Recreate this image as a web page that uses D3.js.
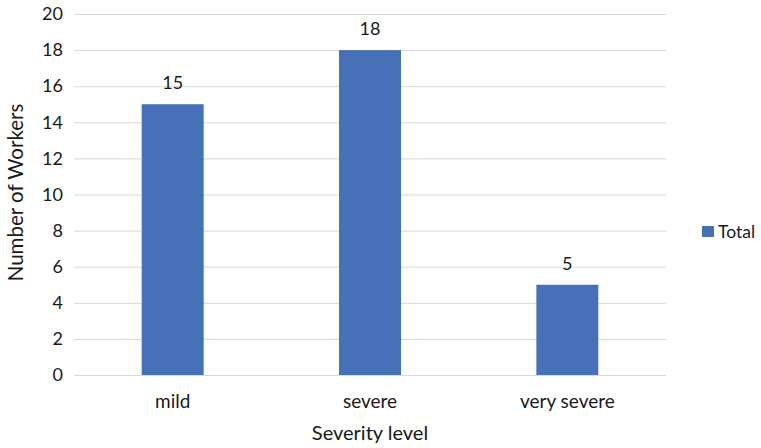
<!DOCTYPE html>
<html>
<head>
<meta charset="utf-8">
<script src="https://cdn.jsdelivr.net/npm/d3@7"></script>
<style>
  html, body { margin: 0; padding: 0; background: #fff; }
  svg { display: block; font-family: Lato, "Open Sans", sans-serif; }
</style>
</head>
<body>
<svg id="chart" width="761" height="448"></svg>
<script>
// Workers by severity level
const categories = ["mild", "severe", "very severe"];
const totals = [15, 18, 5];
const yTicks = [0, 2, 4, 6, 8, 10, 12, 14, 16, 18, 20];
const seriesName = "Total";

const svg = d3.select("#chart");
const plot = { left: 74, right: 666, top: 14, bottom: 375 };
const textColor = "#1a1a1a";
const barColor = "#4671b8";
const fontFamily = "Lato, 'Open Sans', sans-serif";

const x = d3.scaleBand()
  .domain(categories)
  .range([plot.left, plot.right])
  .paddingInner(0.686)
  .paddingOuter(0.343);

const y = d3.scaleLinear()
  .domain([0, 20])
  .range([plot.bottom, plot.top]);

// horizontal gridlines
svg.append("g")
  .selectAll("line")
  .data(yTicks)
  .join("line")
  .attr("x1", plot.left)
  .attr("x2", plot.right)
  .attr("y1", d => y(d) + 0.5)
  .attr("y2", d => y(d) + 0.5)
  .attr("stroke", "#d9d9d9")
  .attr("stroke-width", 1);

// y axis labels
const yAxis = svg.append("g")
  .attr("transform", `translate(${plot.left - 11},0)`)
  .call(d3.axisLeft(y).tickValues(yTicks).tickSize(0).tickPadding(0));
yAxis.select(".domain").remove();
yAxis.selectAll("text")
  .attr("fill", textColor)
  .style("font-size", "18px")
  .style("font-family", fontFamily);

// bars
svg.append("g")
  .selectAll("rect")
  .data(categories)
  .join("rect")
  .attr("x", d => x(d))
  .attr("width", x.bandwidth())
  .attr("y", (d, i) => y(totals[i]))
  .attr("height", (d, i) => y(0) - y(totals[i]))
  .attr("fill", barColor);

// value labels
svg.append("g")
  .selectAll("text")
  .data(categories)
  .join("text")
  .attr("x", d => x(d) + x.bandwidth() / 2)
  .attr("y", (d, i) => y(totals[i]) - 15)
  .attr("text-anchor", "middle")
  .attr("fill", textColor)
  .style("font-size", "18px")
  .text((d, i) => totals[i]);

// x axis labels
const xAxis = svg.append("g")
  .attr("transform", `translate(0,${plot.bottom})`)
  .call(d3.axisBottom(x).tickSize(0).tickPadding(0));
xAxis.select(".domain").remove();
xAxis.selectAll("text")
  .attr("dy", null)
  .attr("y", 33)
  .attr("fill", textColor)
  .style("font-size", "19px")
  .style("font-family", fontFamily);

// axis titles
svg.append("text")
  .attr("x", (plot.left + plot.right) / 2)
  .attr("y", 440)
  .attr("text-anchor", "middle")
  .attr("fill", textColor)
  .style("font-size", "20px")
  .text("Severity level");

svg.append("text")
  .attr("transform", "translate(23,192.5) rotate(-90)")
  .attr("text-anchor", "middle")
  .attr("fill", textColor)
  .style("font-size", "20.5px")
  .text("Number of Workers");

// legend
const legend = svg.append("g").attr("transform", "translate(702,226)");
legend.append("rect")
  .attr("width", 12)
  .attr("height", 11)
  .attr("fill", barColor);
legend.append("text")
  .attr("x", 16)
  .attr("y", 11.5)
  .attr("fill", textColor)
  .style("font-size", "17.5px")
  .text(seriesName);
</script>
</body>
</html>
